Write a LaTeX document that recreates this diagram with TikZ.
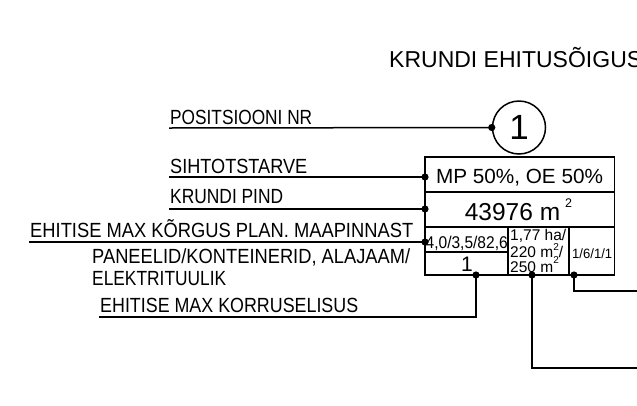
\documentclass[tikz,border=0pt]{standalone}
\usepackage{graphicx}
\usepackage{fontspec}
\setmainfont{Liberation Sans}
\newfontfamily\cadfont{Liberation Sans}
\newcommand{\fitw}[2]{\resizebox{#1}{\height}{#2}}
\newcommand{\smsup}[2]{\raisebox{#1}{\fontsize{10}{10}\selectfont #2}}
\begin{document}
\begin{tikzpicture}[x=1pt,y=-1pt,
  lw/.style={line width=1.5pt},
  lab/.style={inner sep=0pt,anchor=base west,font=\cadfont\fontsize{20.5}{20.5}\selectfont},
  cell/.style={inner sep=0pt}]
\useasboundingbox (0,0) rectangle (637,405);
\clip (0,0) rectangle (637,405);

% title
\node[cell,anchor=base west,font=\fontsize{23}{23}\selectfont] (title) at (389,67) {KRUNDI EHITUSÕIGUS};

% labels
\node[lab] (l1) at (170,124) {\fitw{142pt}{POSITSIOONI NR}};
\node[lab] (l2) at (170,173) {\fitw{137pt}{SIHTOTSTARVE}};
\node[lab] (l3) at (170,203) {\fitw{113pt}{KRUNDI PIND}};
\node[lab] (l4) at (30,237) {\fitw{383pt}{EHITISE MAX KÕRGUS PLAN. MAAPINNAST}};
\node[lab] (l5) at (92,263) {\fitw{318pt}{PANEELID/KONTEINERID, ALAJAAM/}};
\node[lab] (l6) at (92,285) {\fitw{134pt}{ELEKTRITUULIK}};
\node[lab] (l7) at (100,312) {\fitw{258pt}{EHITISE MAX KORRUSELISUS}};

% position circle
\node[circle,draw,lw,minimum size=53pt,inner sep=0pt,font=\fontsize{35}{35}\selectfont] (pos) at (519,127.5) {1};

% table
\coordinate (tl) at (425,157);
\coordinate (br) at (614.5,275);
\draw[lw] (tl) rectangle (br);
\draw[lw] (425,192) -- (614.5,192);
\draw[lw] (425,227) -- (614.5,227);
\draw[lw] (508,227) -- (508,275);
\draw[lw] (569,227) -- (569,275);
\draw[lw] (425,252) -- (508,252);

% table texts
\node[cell,anchor=base,font=\fontsize{20.5}{20.5}\selectfont] (t1) at (519.5,183) {\fitw{167pt}{MP 50\%, OE 50\%}};
\node[cell,anchor=base,font=\fontsize{24.5}{24.5}\selectfont] (t2) at (518.5,220) {43976 m\hspace{5pt}\raisebox{13pt}{\fontsize{12.5}{12.5}\selectfont 2}};
\node[cell,anchor=base west,font=\fontsize{17}{17}\selectfont] (t3) at (425.5,248) {\fitw{82pt}{4,0/3,5/82,6}};
\node[cell,anchor=base,font=\fontsize{21}{21}\selectfont] (t4) at (467,271) {1};
\node[cell,anchor=base west,font=\fontsize{15.5}{15.5}\selectfont] (t5) at (510,240) {1,77 ha/};
\node[cell,anchor=base west,font=\fontsize{15.5}{15.5}\selectfont] (t6) at (510,257) {220 m\smsup{7pt}{2}/};
\node[cell,anchor=base west,font=\fontsize{15.5}{15.5}\selectfont] (t7) at (510,272) {250 m\smsup{9pt}{2}};
\node[cell,anchor=base west,font=\fontsize{13.5}{13.5}\selectfont] (t8) at (572,258) {\fitw{40pt}{1/6/1/1}};

% leader start / end points
\coordinate (u1) at (169,128);
\coordinate (u2) at (169,177);
\coordinate (u3) at (169,209);
\coordinate (u4) at (29,242);
\coordinate (u7) at (99,317);
\coordinate (d2) at (425,177);
\coordinate (d3) at (425,209);
\coordinate (d4) at (425,242);
\coordinate (b1) at (476,275);
\coordinate (b2) at (532,275);
\coordinate (b3) at (574,275);
\coordinate (e2) at (645,368);
\coordinate (e3) at (645,291);

\draw[lw] (u1) -- (pos.west);
\draw[lw] (u2) -- (d2);
\draw[lw] (u3) -- (d3);
\draw[lw] (u4) -- (d4);
\draw[lw] (b1) |- (u7);
\draw[lw] (b2) |- (e2);
\draw[lw] (b3) |- (e3);

\foreach \p in {pos.west,d2,d3,d4,b1,b2,b3}
  \fill (\p) circle (3.6);
\end{tikzpicture}
\end{document}
